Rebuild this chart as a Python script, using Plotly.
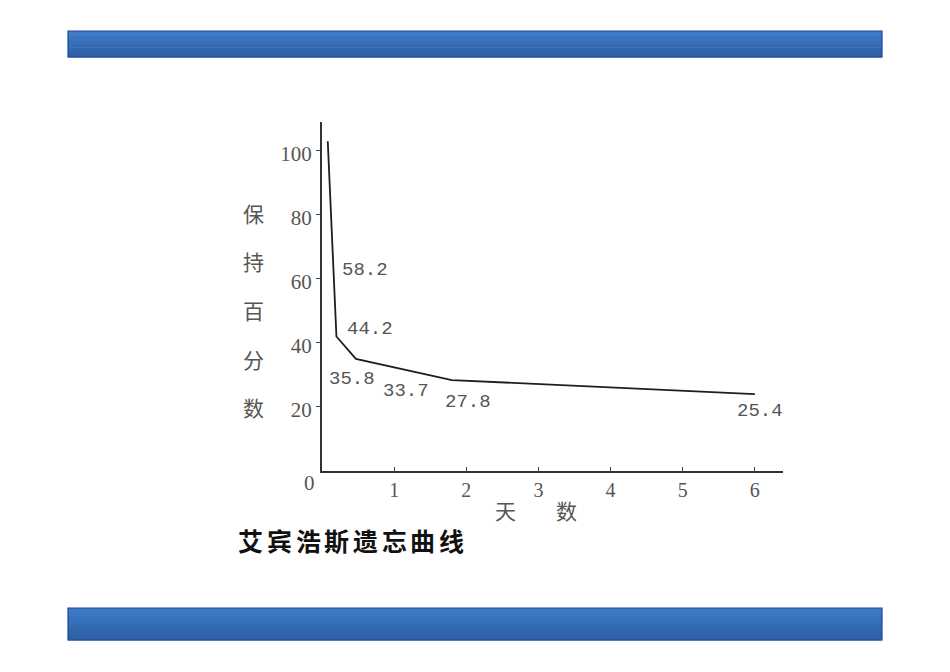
import plotly.graph_objects as go

# drawn forgetting curve (days, percent retained)
days = [0.08, 0.2, 0.47, 1.8, 6.0]
retention = [103, 42, 35, 28.4, 24]

# value labels written next to the curve
label_text = ["58.2", "44.2", "35.8", "33.7", "27.8", "25.4"]
label_x = [0.6, 0.67, 0.42, 1.17, 2.02, 6.07]
label_y = [62.8, 44.2, 28.6, 25.0, 21.5, 18.6]

y_ticks = [20, 40, 60, 80, 100]
x_ticks = [1, 2, 3, 4, 5, 6]

W, H = 950, 672
OFF = 8  # page body margin
def px(x): return (x - OFF) / W
def py(y): return 1 - (y - OFF) / H

GRAY = "#555555"
fig = go.Figure()
fig.add_trace(go.Scatter(x=days, y=retention, mode="lines",
                         line=dict(color="#1e1e1e", width=1.8),
                         hoverinfo="skip", showlegend=False))

for t, x, y in zip(label_text, label_x, label_y):
    fig.add_annotation(x=x, y=y, text=t, showarrow=False,
                       font=dict(family="Liberation Mono", size=19, color=GRAY))

def note(x, y, text, size, family="Noto Sans CJK SC", color=GRAY):
    fig.add_annotation(x=px(x), y=py(y), xref="paper", yref="paper", text=text,
                       xanchor="center", yanchor="middle", showarrow=False,
                       font=dict(family=family, size=size, color=color))

# the lone "0" at the origin
note(309, 483, "0", 21, family="Liberation Serif")

# vertical y title
for i, ch in enumerate("保持百分数"):
    note(253, 213 + i * 48.5, ch, 21)

note(505, 510, "天", 21)
note(566, 510, "数", 21)

for i, ch in enumerate("艾宾浩斯遗忘曲线"):
    note(251 + i * 28.6, 540, "<b>" + ch + "</b>", 25, color="#111111")

# blue header / footer bars with a faked gradient
def bar(y0, y1):
    steps = 8
    h = (y1 - y0) / steps
    for k in range(steps):
        f = k / (steps - 1)
        r = int(0x3d + (0x2f - 0x3d) * f)
        g = int(0x7b + (0x60 - 0x7b) * f)
        b = int(0xc8 + (0xa3 - 0xc8) * f)
        fig.add_shape(type="rect", xref="paper", yref="paper",
                      x0=px(68), x1=px(882), y0=py(y0 + k * h), y1=py(y0 + (k + 1) * h + 0.5),
                      fillcolor=f"rgb({r},{g},{b})", line_width=0, layer="below")
    fig.add_shape(type="rect", xref="paper", yref="paper",
                  x0=px(68), x1=px(882), y0=py(y0), y1=py(y1),
                  line=dict(color="#1d4799", width=1.2), fillcolor="rgba(0,0,0,0)")

bar(31, 57)
bar(608, 640)

fig.update_layout(
    width=W, height=H,
    margin=dict(l=0, r=0, t=0, b=0),
    paper_bgcolor="white", plot_bgcolor="white",
    xaxis=dict(domain=[px(322), px(783)], range=[0, 6.39],
               tickvals=x_ticks, ticks="inside", ticklen=4, tickcolor="#444",
               showline=True, linecolor="#333333", linewidth=2,
               showgrid=False, zeroline=False, ticklabelstandoff=0,
               tickfont=dict(family="Liberation Serif", size=20, color=GRAY)),
    yaxis=dict(domain=[py(471), py(122)], range=[0, 109],
               tickvals=y_ticks, ticks="outside", ticklen=4, tickcolor="#444",
               showline=True, linecolor="#333333", linewidth=2,
               showgrid=False, zeroline=False, ticklabelstandoff=0,
               ticklabelshift=3,
               tickfont=dict(family="Liberation Serif", size=21, color=GRAY)),
)

fig.write_html("out.html")
